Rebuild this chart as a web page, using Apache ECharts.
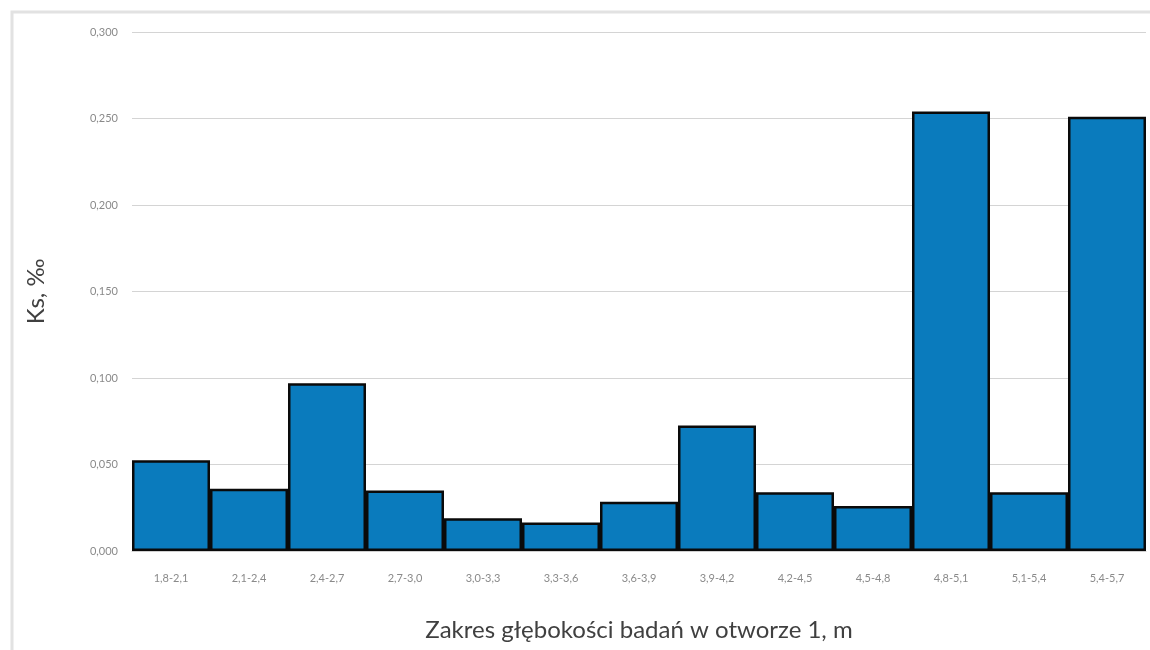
<!DOCTYPE html>
<html>
<head>
<meta charset="utf-8">
<script src="https://cdn.jsdelivr.net/npm/echarts@6/dist/echarts.min.js"></script>
<style>
  html, body { margin: 0; padding: 0; background: #fff; }
  #chart { width: 1150px; height: 650px; }
</style>
</head>
<body>
<div id="chart"></div>
<script>
  // kategorie - zakresy głębokości
  const categories = ['1,8-2,1', '2,1-2,4', '2,4-2,7', '2,7-3,0', '3,0-3,3', '3,3-3,6', '3,6-3,9',
    '3,9-4,2', '4,2-4,5', '4,5-4,8', '4,8-5,1', '5,1-5,4', '5,4-5,7']
  // wartości Ks
  const ksValues = [0.0525, 0.036, 0.097, 0.035, 0.019, 0.0165, 0.0285, 0.0725, 0.034, 0.026, 0.254, 0.034, 0.251]

  const myChart = echarts.init(document.getElementById('chart'))
  const option = {
    backgroundColor: '#fff',
    animation: false,
    textStyle: { fontFamily: 'Lato' },
    graphic: [
      { // ramka wykresu
        type: 'rect',
        shape: { x: 12, y: 12, width: 1150, height: 660 },
        style: { fill: 'none', stroke: '#e2e2e2', lineWidth: 3 },
        silent: true
      }
    ],
    grid: { left: 132, right: 4, top: 32, bottom: 99 },
    xAxis: {
      type: 'category',
      data: categories,
      name: 'Zakres głębokości badań w otworze 1, m',
      nameLocation: 'middle',
      nameGap: 67,
      nameTextStyle: { fontSize: 24, color: '#404040' },
      axisLine: { show: true, lineStyle: { color: '#d0d0d0' } },
      axisTick: { show: false },
      axisLabel: { fontSize: 11, color: '#8a8a8a', margin: 22 }
    },
    yAxis: {
      type: 'value',
      min: 0,
      max: 0.3,
      interval: 0.05,
      name: 'Ks, ‰',
      nameLocation: 'middle',
      nameGap: 84,
      nameTextStyle: { fontSize: 24, color: '#404040' },
      axisLine: { show: false },
      axisTick: { show: false },
      axisLabel: {
        fontSize: 11,
        color: '#8a8a8a',
        margin: 14,
        formatter: v => v.toFixed(3).replace('.', ',')
      },
      splitLine: { lineStyle: { color: '#d4d4d4' } }
    },
    series: [
      {
        type: 'bar',
        data: ksValues,
        barCategoryGap: '0%',
        itemStyle: {
          color: '#0a7bbd',
          borderColor: '#0a0a0a',
          borderWidth: 2.5
        }
      }
    ]
  }
  option && myChart.setOption(option)
</script>
</body>
</html>
